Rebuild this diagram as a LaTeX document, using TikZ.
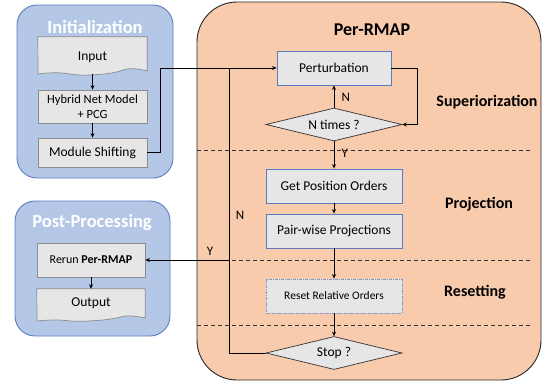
\documentclass[tikz,border=0pt]{standalone}
\usepackage{fontspec}
\setmainfont{Carlito}
\usetikzlibrary{shapes.geometric,arrows.meta}
\definecolor{bfill}{HTML}{B4C7E7}
\definecolor{bline}{HTML}{5B7DC0}
\definecolor{ofill}{HTML}{F8CBAD}
\definecolor{gfill}{HTML}{E7E6E6}
\definecolor{gline}{HTML}{8C8C8C}
\tikzset{
  grp/.style={draw=bline, fill=bfill, line width=0.9pt, rounded corners=20pt},
  bigbox/.style={draw=black!85, fill=ofill, line width=0.9pt, rounded corners=40pt},
  ttl/.style={font=\bfseries\fontsize{18.5}{20}\selectfont, text=white},
  procA/.style={draw=gline, fill=gfill, line width=0.7pt, minimum width=109pt, inner sep=0pt, align=center},
  procB/.style={draw=bline, fill=gfill, line width=0.8pt, minimum width=136pt, minimum height=34pt, inner sep=0pt, font=\fontsize{13.5}{15}\selectfont},
  dec/.style={diamond, aspect=4, draw=black!80, fill=gfill, line width=0.7pt, minimum width=136pt, minimum height=33pt, inner sep=0pt, font=\fontsize{13.5}{15}\selectfont},
  arr/.style={line width=0.8pt, -{Stealth[length=4.5pt,width=4pt]}},
  sep/.style={line width=0.8pt, dash pattern=on 4pt off 3pt, black!80},
  sec/.style={font=\bfseries\fontsize{16}{18}\selectfont},
  lab/.style={font=\fontsize{13}{14}\selectfont}
}
\begin{document}
\begin{tikzpicture}[x=1pt,y=-1pt]
\useasboundingbox (0,0) rectangle (549,383);
% groups
\draw[grp] (17,5) rectangle (173,178);
\draw[grp] (15,201) rectangle (170,336);
\draw[bigbox] (197,2) rectangle (541,380);
\node[ttl] (tinit) at (95,27) {Initialization};
\node[ttl] (tpost) at (92,223) {Post-Processing};
\node[font=\bfseries\fontsize{18}{20}\selectfont] (tper) at (372,30) {Per-RMAP};
% section separators
\draw[sep] (197,150) -- (533,150);
\draw[sep] (197,260) -- (533,260);
\draw[sep] (197,325) -- (533,325);
\node[sec] (ssup) at (487,102) {Superiorization};
\node[sec] (sproj) at (479,204) {Projection};
\node[sec] (sres) at (475,292) {Resetting};
% initialization
\node[minimum width=109pt, minimum height=34pt, inner sep=0pt] (input) at (92.5,54) {};
\fill[gfill] (input.north west) -- (input.north east) -- ++(0,34) .. controls +(-30,-6) and +(40,-2) .. ++(-54,4) .. controls +(-25,2) and +(30,-4) .. (38,74) -- cycle;
\draw[gline, line width=0.7pt] (input.north west) -- (input.north east) -- ++(0,34) .. controls +(-30,-6) and +(40,-2) .. ++(-54,4) .. controls +(-25,2) and +(30,-4) .. (38,74) -- cycle;
\node[font=\fontsize{13.5}{15}\selectfont] (inputtxt) at (92.5,57) {Input};
\node[procA, minimum height=33pt, font=\fontsize{12.5}{15}\selectfont] (hyb) at (92.5,106.5) {Hybrid Net Model\\+ PCG};
\node[procA, minimum height=29pt, font=\fontsize{13.5}{15}\selectfont] (mod) at (92.5,152.5) {Module Shifting};
\draw[arr] (92.5,74) -- (hyb.north);
\draw[arr] (hyb.south) -- (mod.north);
% post-processing
\node[procA, minimum width=108pt, minimum height=34pt, font=\fontsize{12}{14}\selectfont] (rerun) at (91,260) {Rerun \textbf{Per-RMAP}};
\node[minimum width=108pt, minimum height=31pt, inner sep=0pt] (out) at (91,304.5) {};
\fill[gfill] (out.north west) -- (out.north east) -- ++(0,29) .. controls +(-30,-5) and +(40,-2) .. ++(-54,3) .. controls +(-25,2) and +(30,-3) .. (37,321) -- cycle;
\draw[gline, line width=0.7pt] (out.north west) -- (out.north east) -- ++(0,29) .. controls +(-30,-5) and +(40,-2) .. ++(-54,3) .. controls +(-25,2) and +(30,-3) .. (37,321) -- cycle;
\node[font=\fontsize{13.5}{15}\selectfont] (outtxt) at (91,303.5) {Output};
\draw[arr] (rerun.south) -- (out.north);
% per-RMAP
\node[procB, minimum width=114pt] (pert) at (334,68) {Perturbation};
\node[dec] (ntimes) at (334,124.5) {N times ?};
\node[procB] (gpo) at (334,186) {Get Position Orders};
\node[procB] (pwp) at (334,231) {Pair-wise Projections};
\node[procB, draw=bline!80, dash pattern=on 3pt off 1pt on 1pt off 1pt, font=\fontsize{11.5}{13}\selectfont] (reset) at (334,296) {Reset Relative Orders};
\node[dec] (stop) at (334,353) {Stop ?};
\coordinate (jn) at (229,68);
\coordinate (jy) at (229,260);
% connectors
\draw[arr] (mod.east) -- (160,152.5) |- (pert.west);
\draw[arr] (pert.east) -- (417,68) |- (ntimes.east);
\draw[arr] (ntimes.north) -- node[lab, right=4pt, pos=0.45] {N} (pert.south);
\draw[arr] (ntimes.south) -- node[lab, right=4pt, pos=0.45] {Y} (gpo.north);
\draw[arr] (gpo.south) -- (pwp.north);
\draw[arr] (pwp.south) -- (reset.north);
\draw[arr] (reset.south) -- (stop.north);
\draw[line width=0.8pt] (stop.west) -| (jn);
\draw[arr] (jy) -- (rerun.east);
\node[lab] (ln) at (240,215) {N};
\node[lab] (ly) at (210,251) {Y};
\end{tikzpicture}
\end{document}
